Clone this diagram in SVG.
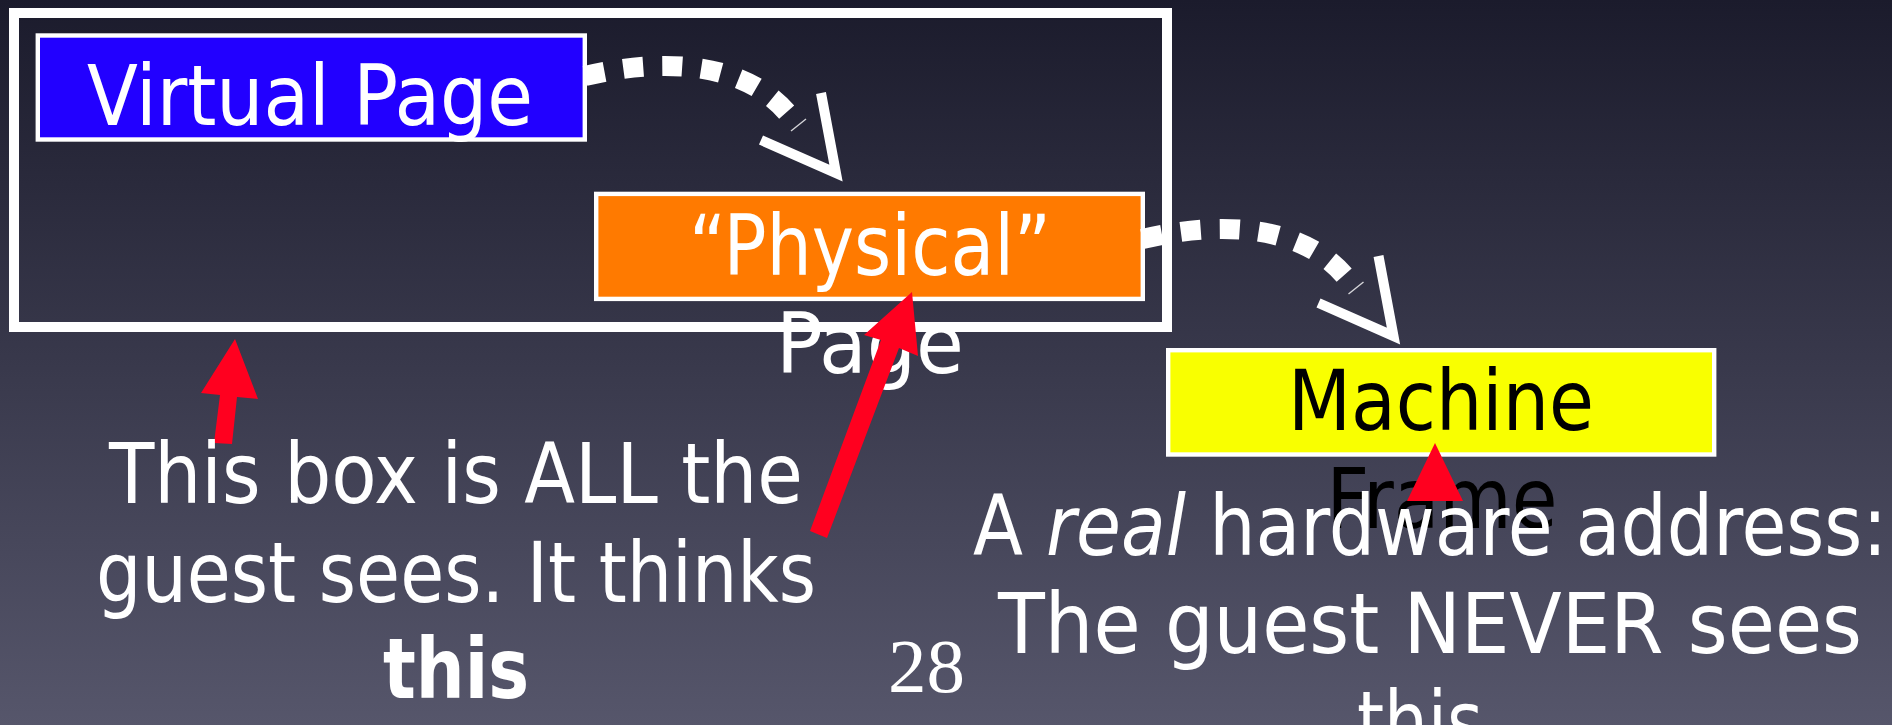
<svg xmlns="http://www.w3.org/2000/svg" width="1892" height="725" viewBox="0 0 1892 725">
  <defs>
    <linearGradient id="bg" x1="0" y1="0" x2="0" y2="1">
      <stop offset="0" stop-color="#1b1b2c"/>
      <stop offset="1" stop-color="#56566b"/>
    </linearGradient>
    <style>
      .t { font-family: "DejaVu Sans Condensed", "DejaVu Sans", sans-serif; font-size: 83px; text-anchor: middle; }
      .w { fill: #ffffff; }
      .k { fill: #000000; }
      .box { stroke: #ffffff; stroke-width: 4.4; }
      .dash { fill: none; stroke: #ffffff; stroke-width: 20; stroke-dasharray: 20 19; stroke-linecap: butt; }
      .head { fill: none; stroke: #ffffff; stroke-width: 10; stroke-linejoin: miter; stroke-miterlimit: 10; }
      .sliver { stroke: #ffffff; stroke-width: 1.5; opacity: 0.8; }
      .red { fill: #ff001f; }
    </style>
  </defs>

  <rect x="0" y="0" width="1892" height="725" fill="url(#bg)"/>

  <g id="guest-view">
    <rect x="14" y="13" width="1153" height="314" fill="none" stroke="#ffffff" stroke-width="10"/>
  </g>

  <g id="virtual-page">
    <rect class="box" x="37.8" y="35.5" width="547" height="104" fill="#2200ff"/>
    <text class="t w" x="310" y="125" textLength="446" lengthAdjust="spacingAndGlyphs">Virtual Page</text>
  </g>

  <g id="physical-page">
    <rect class="box" x="596.2" y="193.9" width="546.6" height="105" fill="#ff7a00"/>
    <text class="t w" x="870" y="275" textLength="362" lengthAdjust="spacingAndGlyphs">“Physical”</text>
    <text class="t w" x="870" y="373" textLength="188" lengthAdjust="spacingAndGlyphs">Page</text>
  </g>

  <g id="connectors">
    <path class="dash" d="M585,76 C660,58 745,60 790,116"/>
    <line class="sliver" x1="791" y1="131" x2="806" y2="119"/>
    <polyline class="head" points="821,93 836,173 761,140"/>
    <g transform="translate(557.5,163)">
      <path class="dash" d="M585,76 C660,58 745,60 790,116"/>
      <line class="sliver" x1="791" y1="131" x2="806" y2="119"/>
      <polyline class="head" points="821,93 836,173 761,140"/>
    </g>
  </g>

  <g id="machine-frame">
    <rect class="box" x="1168.2" y="350.2" width="546" height="104.3" fill="#f9ff00"/>
    <text class="t k" x="1441" y="430" textLength="306" lengthAdjust="spacingAndGlyphs">Machine</text>
    <text class="t k" x="1442" y="528" textLength="231" lengthAdjust="spacingAndGlyphs">Frame</text>
  </g>

  <g id="red-arrows">
    <polygon class="red" points="235,339 258,399 237,397 232,444 214,443 220,395 201,393"/>
    <polygon class="red" points="912,292 918,356 899,348 827,538 810,531 881,340 864,335"/>
    <polygon class="red" points="1435,443 1463,501 1407,501"/>
  </g>

  <g id="guest-note">
    <text class="t w" x="456" y="503" textLength="694" lengthAdjust="spacingAndGlyphs">This box is ALL the</text>
    <text class="t w" x="456" y="602" textLength="720" lengthAdjust="spacingAndGlyphs">guest sees. It thinks</text>
    <text class="t w" x="456" y="698" font-weight="bold" textLength="146" lengthAdjust="spacingAndGlyphs">this</text>
  </g>

  <g id="machine-note">
    <text class="t w" x="1430" y="555" textLength="914" lengthAdjust="spacingAndGlyphs">A <tspan font-style="italic">real</tspan> hardware address:</text>
    <text class="t w" x="1430" y="653" textLength="864" lengthAdjust="spacingAndGlyphs">The guest NEVER sees</text>
    <text class="t w" x="1420" y="751" textLength="126" lengthAdjust="spacingAndGlyphs">this</text>
  </g>

  <g id="page-number">
    <text x="888" y="692" font-family="'Liberation Serif', serif" font-size="77" fill="#ffffff">28</text>
  </g>
</svg>
